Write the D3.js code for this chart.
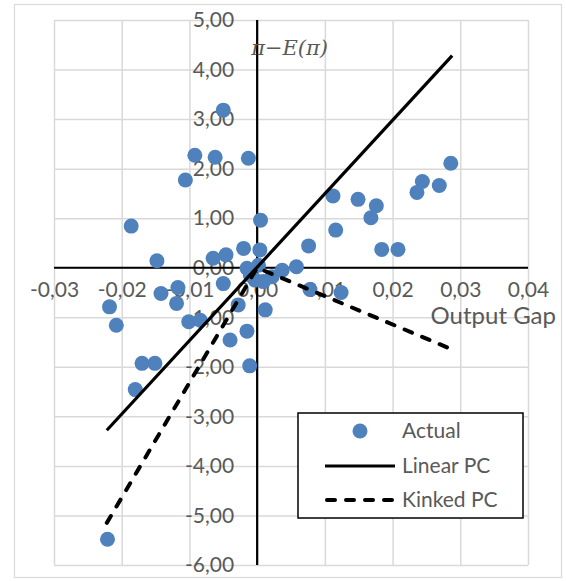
<!DOCTYPE html>
<html>
<head>
<meta charset="utf-8">
<script src="https://cdn.jsdelivr.net/npm/d3@7"></script>
<style>
  body { margin: 0; background: #fff; }
  .tick text { font-family: Lato, "Open Sans", sans-serif; font-size: 21px; fill: #595959; }
  .gridline line { stroke: #d9d9d9; stroke-width: 1.5; }
  .gridline path { display: none; }
  .legend text { font-family: Lato, "Open Sans", sans-serif; font-size: 21px; fill: #595959; }
</style>
</head>
<body>
<div id="chart"></div>
<script>
// Actual points: output gap, inflation surprise
const gapValues = [
  -0.0050, -0.0092, -0.0062, -0.0013, -0.0106, -0.0186, 0.0005, -0.0148,
  -0.0065, -0.0046, -0.0020, 0.0004, -0.0015, 0.0002, -0.0010, -0.0003,
  0.0009, 0.0022, 0.0037, 0.0058, 0.0076, 0.0112, 0.0149, 0.0176,
  0.0168, 0.0116, 0.0184, 0.0208, 0.0286, 0.0244, 0.0236, 0.0269,
  0.0078, 0.0124, 0.0012, -0.0028, -0.0015, -0.0011, -0.0050, -0.0040,
  -0.0218, -0.0208, -0.0142, -0.0117, -0.0119, -0.0101, -0.0084, -0.0170,
  -0.0151, -0.0180, -0.0221
];
const surpriseValues = [
  3.18, 2.27, 2.23, 2.21, 1.77, 0.84, 0.96, 0.14,
  0.19, 0.26, 0.39, 0.36, -0.01, 0.05, -0.15, -0.25,
  -0.28, -0.18, -0.05, 0.02, 0.44, 1.45, 1.38, 1.25,
  1.01, 0.76, 0.37, 0.37, 2.11, 1.74, 1.52, 1.66,
  -0.44, -0.50, -0.85, -0.75, -1.28, -1.98, -0.32, -1.46,
  -0.79, -1.16, -0.52, -0.40, -0.72, -1.09, -1.06, -1.93,
  -1.93, -2.46, -5.48
];

// fitted curves
const linearX = [-0.0222, 0.0288];
const linearY = [-3.28, 4.28];
const kinkedX = [-0.0222, 0, 0.0288];
const kinkedY = [-5.15, 0, -1.65];

const xTicks = [-0.03, -0.02, -0.01, 0, 0.01, 0.02, 0.03, 0.04];
const yTicks = [-6, -5, -4, -3, -2, -1, 0, 1, 2, 3, 4, 5];
const seriesNames = ["Actual", "Linear PC", "Kinked PC"];

const width = 566, height = 581;
const margin = { top: 20, right: 38, bottom: 16, left: 54 };
const fmt = v => d3.format(".2f")(v).replace(".", ",").replace("−", "-");

const svg = d3.select("#chart").append("svg")
    .attr("width", width)
    .attr("height", height);

// outer chart border
svg.append("rect")
    .attr("x", 14.5).attr("y", 4.5)
    .attr("width", 547).attr("height", 573)
    .attr("fill", "#fff")
    .attr("stroke", "#d9d9d9")
    .attr("stroke-width", 1.2);

const xScale = d3.scaleLinear()
    .domain([-0.03, 0.04])
    .range([margin.left, width - margin.right]);
const yScale = d3.scaleLinear()
    .domain([-6, 5])
    .range([height - margin.bottom, margin.top]);

// grid lines
svg.append("g")
    .attr("class", "gridline")
    .attr("transform", "translate(0," + yScale(-6) + ")")
    .call(d3.axisBottom(xScale).tickValues(xTicks).tickFormat("")
      .tickSize(-(yScale(-6) - yScale(5))));
svg.append("g")
    .attr("class", "gridline")
    .attr("transform", "translate(" + xScale(-0.03) + ",0)")
    .call(d3.axisLeft(yScale).tickValues(yTicks).tickFormat("")
      .tickSize(-(xScale(0.04) - xScale(-0.03))));

// tick labels
const xLabels = svg.append("g")
    .attr("transform", "translate(0," + (yScale(0) + 23) + ")")
    .call(d3.axisBottom(xScale).tickValues(xTicks).tickFormat(fmt).tickSize(0));
xLabels.select(".domain").remove();
xLabels.selectAll("text").attr("dy", "0.32em").attr("y", 0);

const yLabels = svg.append("g")
    .attr("transform", "translate(" + (xScale(0) - 23) + ",0)")
    .call(d3.axisLeft(yScale).tickValues(yTicks).tickFormat(fmt).tickSize(0));
yLabels.select(".domain").remove();
yLabels.selectAll("text").attr("x", 0);

// main axes through origin
svg.append("line")
    .attr("x1", xScale(-0.03)).attr("x2", xScale(0.04))
    .attr("y1", yScale(0)).attr("y2", yScale(0))
    .attr("stroke", "#000").attr("stroke-width", 2.2);
svg.append("line")
    .attr("x1", xScale(0)).attr("x2", xScale(0))
    .attr("y1", yScale(5)).attr("y2", yScale(-6))
    .attr("stroke", "#000").attr("stroke-width", 2.2);

// axis titles
svg.append("text")
    .attr("x", xScale(0.04) + 28).attr("y", yScale(0) + 56)
    .attr("text-anchor", "end")
    .attr("font-family", "Lato, 'Open Sans', sans-serif")
    .attr("font-size", 24)
    .attr("fill", "#595959")
    .text("Output Gap");
svg.append("text")
    .attr("x", xScale(0) - 6).attr("y", 55)
    .attr("font-family", "'DejaVu Serif', serif")
    .attr("font-style", "italic")
    .attr("font-size", 21)
    .attr("fill", "#595959")
    .text("π−E(π)");

// points
const points = gapValues.map((g, i) => ({ x: g, y: surpriseValues[i] }));
svg.append("g").selectAll("circle")
    .data(points)
  .enter().append("circle")
    .attr("cx", d => xScale(d.x))
    .attr("cy", d => yScale(d.y))
    .attr("r", 7.5)
    .attr("fill", "#4f81bd");

// fitted lines
const line = d3.line().x(d => xScale(d[0])).y(d => yScale(d[1]));
svg.append("path")
    .datum(linearX.map((x, i) => [x, linearY[i]]))
    .attr("d", line)
    .attr("fill", "none")
    .attr("stroke", "#000")
    .attr("stroke-width", 3.2);
svg.append("path")
    .datum(kinkedX.map((x, i) => [x, kinkedY[i]]))
    .attr("d", line)
    .attr("fill", "none")
    .attr("stroke", "#000")
    .attr("stroke-width", 4)
    .attr("stroke-linecap", "round")
    .attr("stroke-dasharray", "8,11");

// legend
const legend = svg.append("g").attr("class", "legend")
    .attr("transform", "translate(298,413)");
legend.append("rect")
    .attr("width", 225).attr("height", 105)
    .attr("fill", "#fff")
    .attr("stroke", "#000")
    .attr("stroke-width", 1.5);

const rowY = [18, 53, 87];
legend.selectAll("text")
    .data(seriesNames)
  .enter().append("text")
    .attr("x", 104)
    .attr("y", (d, i) => rowY[i])
    .attr("dy", "0.35em")
    .text(d => d);

legend.append("circle")
    .attr("cx", 62).attr("cy", rowY[0]).attr("r", 7.5)
    .attr("fill", "#4f81bd");
legend.append("line")
    .attr("x1", 27).attr("x2", 97)
    .attr("y1", rowY[1]).attr("y2", rowY[1])
    .attr("stroke", "#000").attr("stroke-width", 3.2);
legend.append("line")
    .attr("x1", 29).attr("x2", 97)
    .attr("y1", rowY[2]).attr("y2", rowY[2])
    .attr("stroke", "#000").attr("stroke-width", 4)
    .attr("stroke-linecap", "round")
    .attr("stroke-dasharray", "8,11");
</script>
</body>
</html>
